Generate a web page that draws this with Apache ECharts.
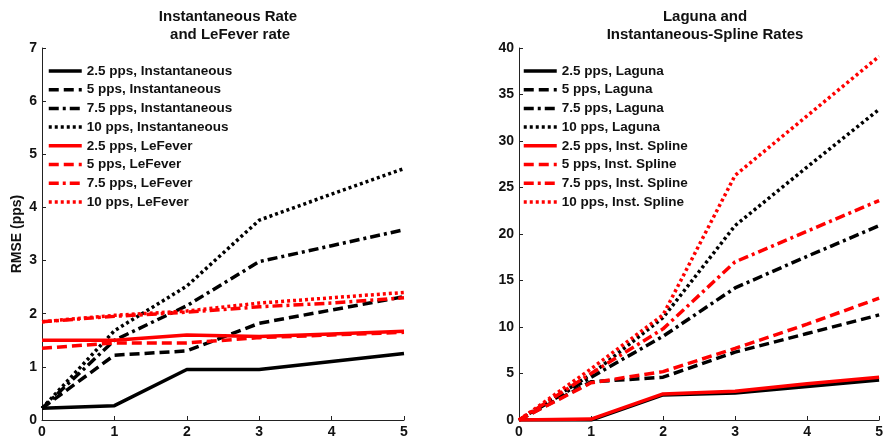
<!DOCTYPE html>
<html>
<head>
<meta charset="utf-8">
<script src="https://cdn.jsdelivr.net/npm/echarts@6/dist/echarts.min.js"></script>
<style>
  html, body { margin: 0; padding: 0; background: #fff; }
  #main { width: 886px; height: 441px; }
</style>
</head>
<body>
<div id="main"></div>
<script>
// x positions shared by every line
var xs = [0, 1, 2, 3, 4, 5];

// left panel
var inst25 = [0.22, 0.27, 0.95, 0.95, 1.10, 1.25];
var inst5  = [0.22, 1.22, 1.30, 1.82, 2.07, 2.32];
var inst75 = [0.22, 1.50, 2.15, 2.98, 3.28, 3.58];
var inst10 = [0.22, 1.68, 2.52, 3.76, 4.25, 4.73];
var lef25  = [1.50, 1.50, 1.60, 1.57, 1.62, 1.67];
var lef5   = [1.35, 1.45, 1.45, 1.55, 1.60, 1.65];
var lef75  = [1.85, 1.95, 2.03, 2.13, 2.20, 2.30];
var lef10  = [1.85, 1.97, 2.05, 2.20, 2.30, 2.40];

// right panel
var lag25  = [0, 0,   2.7,  2.9,  3.6,  4.3];
var lag5   = [0, 4.1, 4.6,  7.3,  9.3,  11.3];
var lag75  = [0, 4.6, 9.0,  14.2, 17.6, 20.9];
var lag10  = [0, 4.9, 11.0, 20.9, 27.2, 33.4];
var spl25  = [0, 0.1, 2.8,  3.1,  3.9,  4.6];
var spl5   = [0, 4.0, 5.2,  7.7,  10.3, 13.1];
var spl75  = [0, 5.0, 9.8,  17.0, 20.3, 23.6];
var spl10  = [0, 5.5, 11.3, 26.3, 32.7, 39.1];

var leftNames = ['2.5 pps, Instantaneous', '5 pps, Instantaneous', '7.5 pps, Instantaneous', '10 pps, Instantaneous',
  '2.5 pps, LeFever', '5 pps, LeFever', '7.5 pps, LeFever', '10 pps, LeFever'];
var rightNames = ['2.5 pps, Laguna', '5 pps, Laguna', '7.5 pps, Laguna', '10 pps, Laguna',
  '2.5 pps, Inst. Spline', '5 pps, Inst. Spline', '7.5 pps, Inst. Spline', '10 pps, Inst. Spline'];

var leftData = [inst25, inst5, inst75, inst10, lef25, lef5, lef75, lef10];
var rightData = [lag25, lag5, lag75, lag10, spl25, spl5, spl75, spl10];

var yTicksLeft = [0, 7, 1];
var yTicksRight = [0, 40, 5];

var dashes = ['solid', [10, 5], [10, 4, 3, 4], [3, 3]];
var font = 'Liberation Sans, Arial, sans-serif';

function pairs(arr) {
  return arr.map(function (v, i) { return [xs[i], v]; });
}

function makeSeries(names, data, idx) {
  return names.map(function (n, i) {
    return {
      name: n,
      type: 'line',
      xAxisIndex: idx,
      yAxisIndex: idx,
      data: pairs(data[i]),
      symbol: 'none',
      lineStyle: {
        width: 3.5,
        color: i < 4 ? '#000' : '#ff0000',
        type: dashes[i % 4]
      },
      itemStyle: { color: i < 4 ? '#000' : '#ff0000' }
    };
  });
}

function axisCommon() {
  return {
    axisLine: { show: true, lineStyle: { color: '#222', width: 1 } },
    axisTick: { show: true, inside: true, length: 4, lineStyle: { color: '#222' } },
    splitLine: { show: false },
    axisLabel: { color: '#111', fontFamily: font, fontWeight: 'bold', fontSize: 14, margin: 5 }
  };
}

var myChart = echarts.init(document.getElementById('main'));

var xa = [0, 1].map(function (g) {
  return Object.assign(axisCommon(), { type: 'value', gridIndex: g, min: 0, max: 5, interval: 1 });
});
var ya = [yTicksLeft, yTicksRight].map(function (t, g) {
  var a = Object.assign(axisCommon(), { type: 'value', gridIndex: g, min: t[0], max: t[1], interval: t[2] });
  if (g === 0) {
    a.name = 'RMSE (pps)';
    a.nameLocation = 'middle';
    a.nameGap = 18;
    a.nameTextStyle = { color: '#111', fontFamily: font, fontWeight: 'bold', fontSize: 14 };
  }
  return a;
});

var legendText = { fontFamily: font, fontWeight: 'bold', fontSize: 13.5, color: '#111' };

var option = {
  animation: false,
  backgroundColor: '#fff',
  title: [
    { text: 'Instantaneous Rate\n and LeFever rate', left: 223, top: 3, textAlign: 'center',
      textStyle: { fontFamily: font, fontWeight: 'bold', fontSize: 15, color: '#111', lineHeight: 18 } },
    { text: 'Laguna and\nInstantaneous-Spline Rates', left: 700, top: 3, textAlign: 'center',
      textStyle: { fontFamily: font, fontWeight: 'bold', fontSize: 15, color: '#111', lineHeight: 18 } }
  ],
  grid: [
    { left: 42, right: 482, top: 48, bottom: 21 },
    { left: 519, right: 5, top: 48, bottom: 21 }
  ],
  legend: [
    { data: leftNames, orient: 'vertical', left: 42, top: 59, itemWidth: 33, itemHeight: 14, itemGap: 4.7,
      itemStyle: { opacity: 0 }, lineStyle: { width: 3.5 }, textStyle: legendText },
    { data: rightNames, orient: 'vertical', left: 517, top: 59, itemWidth: 33, itemHeight: 14, itemGap: 4.7,
      itemStyle: { opacity: 0 }, lineStyle: { width: 3.5 }, textStyle: legendText }
  ],
  xAxis: xa,
  yAxis: ya,
  series: makeSeries(leftNames, leftData, 0).concat(makeSeries(rightNames, rightData, 1))
};

myChart.setOption(option);
</script>
</body>
</html>
